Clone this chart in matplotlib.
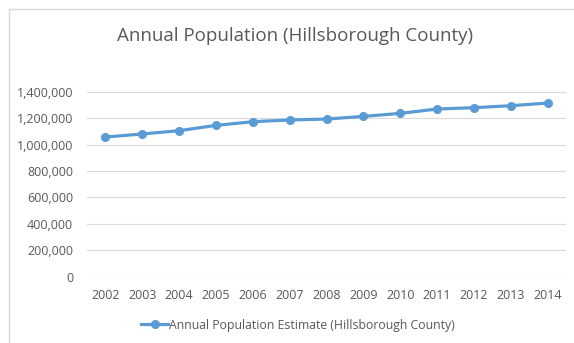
import matplotlib
matplotlib.use("Agg")
import matplotlib.pyplot as plt
from matplotlib.lines import Line2D
from matplotlib.ticker import FuncFormatter

years = ["2002", "2003", "2004", "2005", "2006", "2007", "2008",
         "2009", "2010", "2011", "2012", "2013", "2014"]
population = [1057000, 1080000, 1105000, 1145000, 1173000, 1186000, 1193000,
              1213000, 1236000, 1269000, 1279000, 1294000, 1314000]
yticks = [0, 200000, 400000, 600000, 800000, 1000000, 1200000, 1400000]

blue = "#5B9BD5"
grey = "#595959"
plt.rcParams["font.family"] = ["Open Sans", "DejaVu Sans"]

fig = plt.figure(figsize=(5.74, 3.43), dpi=100)
ax = fig.add_axes([87 / 574, 66.3 / 343, 479 / 574, 185 / 343])

x = range(len(years))
ax.plot(x, population, color=blue, lw=2.3, marker="o", ms=5.5,
        label="Annual Population Estimate (Hillsborough County)")

ax.set_xlim(-0.5, len(years) - 0.5)
ax.set_ylim(0, 1400000)
ax.set_xticks(list(x))
ax.set_xticklabels(years)
ax.set_yticks(yticks)
ax.yaxis.set_major_formatter(FuncFormatter(lambda v, p: f"{int(v):,}"))
ax.grid(axis="y", color="#D9D9D9", lw=0.8)
ax.set_axisbelow(True)
for s in ax.spines.values():
    s.set_visible(False)
ax.tick_params(length=0, colors=grey, labelsize=9)
ax.tick_params(axis="x", pad=9)
ax.tick_params(axis="y", pad=10)

fig.text(295 / 574, 1 - 36 / 343, "Annual Population (Hillsborough County)",
         ha="center", va="center", fontsize=13.5, color=grey)

leg = fig.legend(loc="center", bbox_to_anchor=(298 / 574, 1 - 325 / 343),
                 frameon=False, fontsize=8.8, handlelength=2.2,
                 handletextpad=0.1, labelcolor=grey)

# chart border (only left and top visible in the crop)
fig.add_artist(Line2D([8.5 / 574, 8.5 / 574], [0, 1 - 8.5 / 343],
                      transform=fig.transFigure, color="#D9D9D9", lw=1))
fig.add_artist(Line2D([8.5 / 574, 1], [1 - 8.5 / 343, 1 - 8.5 / 343],
                      transform=fig.transFigure, color="#D9D9D9", lw=1))

fig.savefig("out.png", dpi=100)
